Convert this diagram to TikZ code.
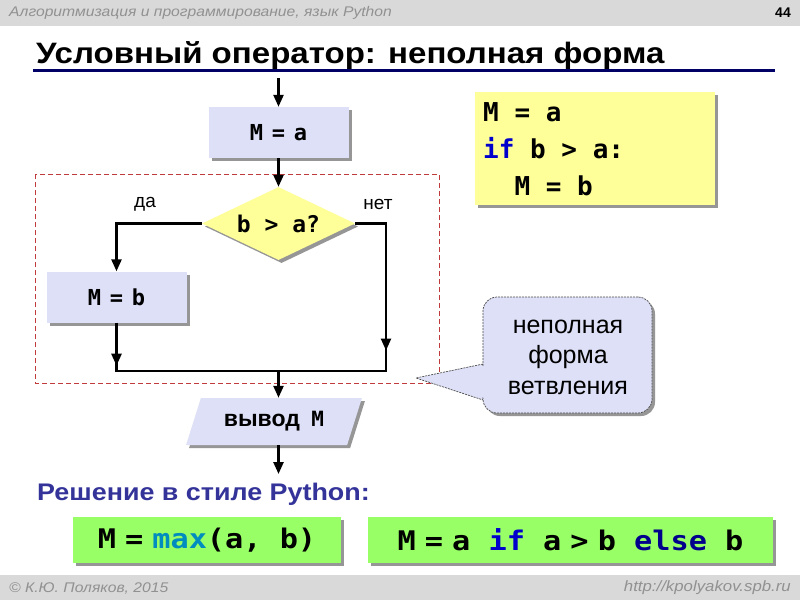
\documentclass[tikz,border=0pt]{standalone}
\usepackage{fontspec}
\setmainfont{Liberation Sans}
\newfontfamily\cmono{DejaVu Sans Mono}
\usetikzlibrary{shapes.geometric,arrows.meta,shadows}
\newcommand\myfs[1]{\fontsize{#1}{#1}\selectfont}
\newcommand\xs[1]{\scalebox{1.12}[1]{#1}}
\definecolor{hdrgray}{RGB}{217,217,217}
\definecolor{hdrtext}{RGB}{145,145,145}
\definecolor{lav}{RGB}{221,224,246}
\definecolor{yel}{RGB}{255,255,153}
\definecolor{grn}{RGB}{153,255,102}
\definecolor{navy}{RGB}{0,0,102}
\definecolor{sol}{RGB}{51,51,153}
\definecolor{tealc}{RGB}{0,140,190}
\definecolor{kw}{RGB}{0,0,204}
\definecolor{kw2}{RGB}{0,0,140}
\definecolor{dred}{RGB}{192,60,60}
\definecolor{shad}{RGB}{150,150,150}
\tikzset{
  arr/.style={line width=2.4pt,-{Triangle[length=12pt,width=10pt]}},
  ln/.style={line width=2.4pt},
  shd/.style={drop shadow={shadow xshift=3pt,shadow yshift=-3pt,fill=shad,opacity=1}},
  fbox/.style={fill=lav,minimum width=140pt,minimum height=51pt,inner sep=0pt,shd,font=\cmono\bfseries\myfs{22}},
  gbox/.style={fill=grn,minimum height=46pt,inner sep=0pt,shd,font=\cmono\bfseries\myfs{27}},
  code/.style={anchor=base west,inner sep=0pt,font=\cmono\bfseries\myfs{26}},
  lbl/.style={font=\myfs{19},inner sep=0pt}
}
\begin{document}
\begin{tikzpicture}[x=1pt,y=-1pt]
\useasboundingbox (0,0) rectangle (800,600);
\fill[white] (0,0) rectangle (800,600);
% header / footer
\fill[hdrgray] (0,0) rectangle (800,26);
\fill[hdrgray] (0,575) rectangle (800,600);
\node[anchor=west,inner sep=0pt,text=hdrtext,font=\itshape\myfs{14}] (hdr) at (9,13) {\xs{Алгоритмизация и программирование, язык Python}};
\node[anchor=east,inner sep=0pt,font=\bfseries\myfs{14}] (pg) at (791,13) {44};
\node[anchor=west,inner sep=0pt,text=hdrtext,font=\itshape\myfs{14}] (ftl) at (9,588) {\xs{© К.Ю. Поляков, 2015}};
\node[anchor=east,inner sep=0pt,text=hdrtext,font=\itshape\myfs{15}] (ftr) at (791,588) {\xs{http://kpolyakov.spb.ru}};
% title
\node[anchor=base west,inner sep=0pt,font=\bfseries\myfs{29.5}] (title) at (36,63) {\xs{Условный оператор: неполная форма}};
\draw[navy,line width=3pt] (33,70) -- (775,70);
% dashed frame
\draw[dred,line width=0.8pt,dash pattern=on 5pt off 3pt] (35,174) rectangle (439,383);
% flowchart
\coordinate (top) at (278.5,78);
\node[fbox] (ma) at (278.5,132.5) {M\hspace{0.4em}=\hspace{0.4em}a};
\node[diamond,fill=yel,shd,minimum width=153pt,minimum height=73pt,aspect=2.1,inner sep=0pt,font=\cmono\bfseries\myfs{23}] (dia) at (278.5,223.5) {b > a?};
\node[fbox] (mb) at (116.5,297) {M\hspace{0.4em}=\hspace{0.4em}b};
\node[trapezium,trapezium left angle=63,trapezium right angle=117,trapezium stretches=true,minimum width=176pt,minimum height=47pt,fill=lav,shd,inner sep=0pt] (out) at (274,421.5) {\bfseries\myfs{23}вывод\hspace{0.5em}{\cmono\myfs{21}M}};
\coordinate (jl) at (116.5,371);
\coordinate (jr) at (386,371);
\coordinate (jm) at (278.5,371);
\coordinate (bot) at (278.5,474);
\node[lbl,anchor=base] (yes) at (145,207) {да};
\node[lbl,anchor=base] (no) at (378,209) {нет};
\draw[arr] (top) -- (ma);
\draw[arr] (ma) -- (dia);
\draw[arr] (dia.west) -| (mb.north);
\draw[ln] (dia.east) -| (jr) -- (jl) -- (mb.south);
\draw[arr] (mb.south) -- ++(0,43);
\draw[arr] (dia.east -| jr) -- ++(0,127);
\draw[arr] (jm) -- (jm |- out.north);
\draw[arr] (jm |- out.south) -- (bot);
% code box
\node[fill=yel,shd,minimum width=240pt,minimum height=113pt,inner sep=0pt] (cb) at (595,148.5) {};
\node[code] (c1) at (483,121) {M = a};
\node[code] (c2) at (483,158) {{\color{kw}if} b > a:};
\node[code] (c3) at (483,195) {\ \ M = b};
% callout
\fill[shad] (486,300) [rounded corners=14pt] -- (655,300) -- (655,416) -- (486,416) -- cycle;
\draw[fill=lav,draw=black!70,line width=0.7pt,dash pattern=on 2pt off 1pt] (483,364) -- (416,378) -- (483,400) -- cycle;
\node[rounded corners=14pt,fill=lav,draw=black!70,line width=0.7pt,dash pattern=on 2pt off 1pt,minimum width=169pt,minimum height=116pt] (call) at (567.5,355) {};
\fill[lav] (486,365.5) -- (419,378) -- (486,398.5) -- cycle;
\node[align=center,font=\fontsize{25}{30.5}\selectfont,inner sep=0pt] (calltext) at (568,357) {неполная\\форма\\ветвления};
% solution
\node[anchor=base west,inner sep=0pt,text=sol,font=\bfseries\myfs{24}] (sol) at (37,500) {\xs{Решение в стиле Python:}};
\node[gbox,minimum width=268pt] (g1) at (207,540) {\xs{M\hspace{0.3em}=\hspace{0.3em}{\color{tealc}max}(a, b)}};
\node[gbox,minimum width=405pt] (g2) at (570.5,540) {\xs{M\hspace{0.3em}=\hspace{0.3em}a {\color{kw}if} a\hspace{0.3em}>\hspace{0.3em}b {\color{kw2}else} b}};
\end{tikzpicture}
\end{document}
